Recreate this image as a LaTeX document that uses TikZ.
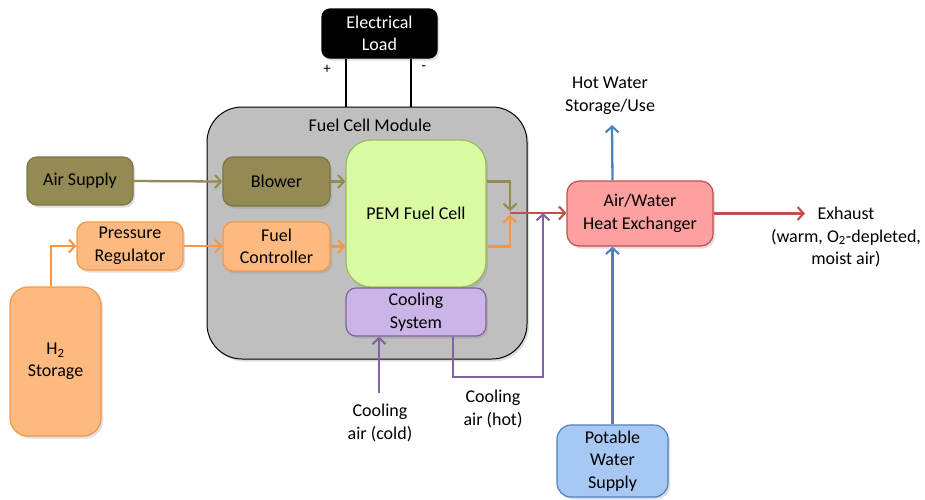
\documentclass[tikz,border=0pt]{standalone}
\usepackage{fontspec}
\setmainfont{Carlito}
\usetikzlibrary{arrows.meta,shadows,calc}
\definecolor{olivef}{HTML}{948A54}
\definecolor{oranged}{HTML}{F79646}
\definecolor{orangef}{HTML}{FCBA80}
\definecolor{greenf}{HTML}{D9FAA2}
\definecolor{greend}{HTML}{9BBB59}
\definecolor{purpd}{HTML}{8064A2}
\definecolor{purpf}{HTML}{CBB4E6}
\definecolor{redd}{HTML}{C0504D}
\definecolor{redf}{HTML}{FFA0A0}
\definecolor{blued}{HTML}{4F81BD}
\definecolor{bluef}{HTML}{A8C8F4}
\definecolor{modf}{HTML}{BFBFBF}
\tikzset{
  txt/.style={font=\fontsize{18}{22.5}\selectfont, align=center, inner sep=0pt},
  box/.style={txt, rectangle, rounded corners=10pt, draw, line width=1.2pt,
     drop shadow={shadow xshift=2pt, shadow yshift=-2.5pt, opacity=0.25}},
  olivebox/.style={box, fill=olivef, draw=olivef!85!black},
  orangebox/.style={box, fill=orangef, draw=oranged},
  flow/.style={line width=2.3pt, -{Straight Barb[length=6pt,width=13pt,line width=2.1pt]}},
}
\begin{document}
\begin{tikzpicture}[x=1pt,y=-1pt]
\useasboundingbox (0,0) rectangle (925,499);
% electrical load
\node[box, fill=black, draw=black, text=white, rounded corners=8pt,
  minimum width=115pt, minimum height=49pt] (load) at (379.5,33.5) {Electrical\\Load};
% module
\node[box, fill=modf, draw=black, line width=1pt, rounded corners=35pt,
  minimum width=320pt, minimum height=252pt] (module) at (367,233) {};
\draw[line width=2pt] ([xshift=-33.5pt]load.south) -- ([xshift=-33.5pt]load.south |- module.north);
\draw[line width=2pt] ([xshift=31.5pt]load.south) -- ([xshift=31.5pt]load.south |- module.north);
\node[txt, font=\fontsize{15}{17}\selectfont] (plus) at (327,69) {+};
\node[txt, font=\fontsize{15}{17}\selectfont] (minus) at (424,68) {-};
\node[txt] (modlabel) at (370,125) {Fuel Cell Module};
% boxes
\node[olivebox, minimum width=106pt, minimum height=48pt] (air) at (80,181) {Air Supply};
\node[olivebox, minimum width=107pt, minimum height=49pt] (blower) at (276.5,181.5) {Blower};
\node[box, fill=greenf, draw=greend, rounded corners=25pt,
  minimum width=140pt, minimum height=147pt] (pem) at (416,213.5) {PEM Fuel Cell};
\node[orangebox, minimum width=106pt, minimum height=48pt] (preg) at (130,246) {Pressure\\Regulator};
\node[orangebox, minimum width=107pt, minimum height=49pt] (fctl) at (276.5,246.5) {Fuel\\Controller};
\node[orangebox, rounded corners=18pt, minimum width=91pt, minimum height=149pt] (h2) at (55.5,361.5) {H\textsubscript{2}\\Storage};
\node[box, fill=purpf, draw=purpd, minimum width=140pt, minimum height=48pt] (cool) at (416,312) {Cooling\\System};
\node[box, fill=redf, draw=redd, rounded corners=12pt, minimum width=146pt, minimum height=65pt] (hx) at (640,213.5) {Air/Water\\Heat Exchanger};
\node[box, fill=bluef, draw=blued, rounded corners=14pt, minimum width=111pt, minimum height=72pt] (water) at (612.5,461) {Potable\\Water\\Supply};
% labels
\node[txt] (hot) at (610,96) {Hot Water\\Storage/Use};
\node[txt] (exh) at (846,237) {Exhaust\\(warm, O\textsubscript{2}-depleted,\\moist air)};
\node[txt] (cold) at (380,423) {Cooling\\air (cold)};
\node[txt] (hotair) at (493,409) {Cooling\\air (hot)};
% coordinates
\coordinate (j) at (510,213);
\coordinate (jtop) at (510,211);
\coordinate (jbot) at (510,215);
\coordinate (hotc) at (543,377);
\coordinate (coldstart) at (379,393);
\coordinate (hotend) at (612,125);
\coordinate (exhend) at (805,213.5);
% air flows
\draw[flow, olivef] (air.east) -- (blower.west);
\draw[flow, olivef] (blower.east) -- (blower.east -| pem.west);
\draw[flow, olivef] (pem.east |- blower.east) -| (jtop);
% hydrogen flows
\draw[flow, oranged] ([xshift=-4.5pt]h2.north) |- (preg.west);
\draw[flow, oranged] (preg.east) -- (preg.east -| fctl.west);
\draw[flow, oranged] (fctl.east) -- (fctl.east -| pem.west);
\draw[flow, oranged] (pem.east |- fctl.east) -| (jbot);
% exhaust
\draw[flow, redd] (j) -- (j -| hx.west);
\draw[flow, redd] (hx.east) -- (exhend);
% cooling
\draw[flow, purpd] (coldstart) -- (coldstart |- cool.south);
\draw[flow, purpd] ([xshift=37pt]cool.south) |- (hotc) -- (hotc |- j);
% water
\draw[flow, blued] (water.north) -- (water.north |- hx.south);
\draw[flow, blued] (water.north |- hx.north) -- (hotend);
\end{tikzpicture}
\end{document}
